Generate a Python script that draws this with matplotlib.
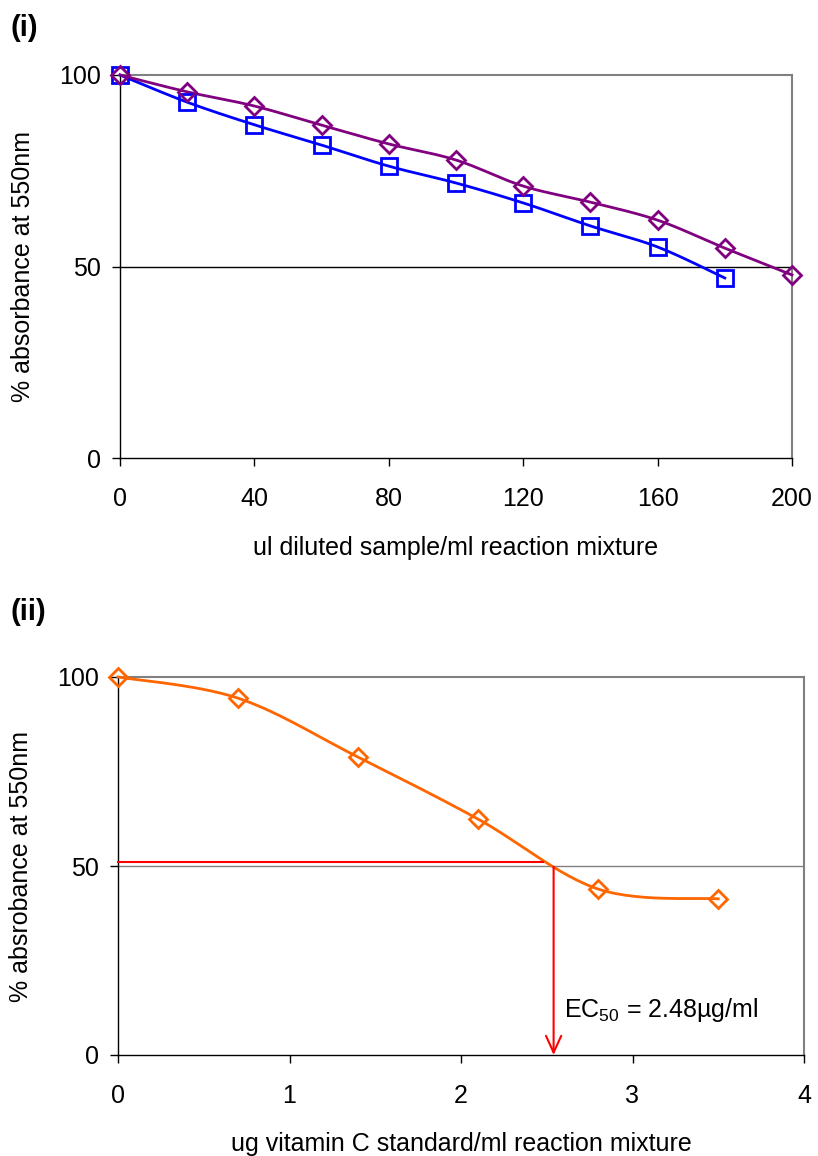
import numpy as np
import matplotlib
matplotlib.use("Agg")
import matplotlib.pyplot as plt

plt.rcParams['font.family'] = ['Liberation Sans', 'DejaVu Sans']
plt.rcParams['mathtext.fontset'] = 'custom'
plt.rcParams['mathtext.rm'] = 'Liberation Sans'
plt.rcParams['mathtext.it'] = 'Liberation Sans'
plt.rcParams['mathtext.bf'] = 'Liberation Sans:bold'

# ---- data (i)
x_top_sq = [0, 20, 40, 60, 80, 100, 120, 140, 160, 180]
y_top_sq = [100, 92.9, 87.0, 81.7, 76.2, 71.8, 66.6, 60.6, 55.1, 47.0]
x_top_di = [0, 20, 40, 60, 80, 100, 120, 140, 160, 180, 200]
y_top_di = [100, 95.6, 91.9, 86.9, 82.0, 77.8, 71.0, 66.8, 62.1, 54.8, 47.8]
top_xticks = [0, 40, 80, 120, 160, 200]
yticks = [0, 50, 100]

# ---- data (ii)
x_bot = [0, 0.70, 1.40, 2.10, 2.80, 3.50]
y_bot = [100, 94.4, 78.8, 62.4, 43.9, 41.3]
bot_xticks = [0, 1, 2, 3, 4]
ec50_h_end = 2.48
ec50_arrow_x = 2.54
ec50_level = 51
ec50_text = r'EC$_{\mathrm{50}}$ = 2.48µg/ml'


def smooth(x, y, n=30):
    """Excel-like smoothed line (Catmull-Rom style Bezier) through the points."""
    x = np.asarray(x, float); y = np.asarray(y, float)
    P = np.column_stack([x, y])
    out = [P[0]]
    for i in range(len(P) - 1):
        p0 = P[i - 1] if i > 0 else P[i]
        p1 = P[i]; p2 = P[i + 1]
        p3 = P[i + 2] if i + 2 < len(P) else P[i + 1]
        c1 = p1 + (p2 - p0) / 6.0
        c2 = p2 - (p3 - p1) / 6.0
        t = np.linspace(0, 1, n)[1:, None]
        seg = ((1 - t) ** 3) * p1 + 3 * ((1 - t) ** 2) * t * c1 + 3 * (1 - t) * t ** 2 * c2 + t ** 3 * p2
        out.extend(seg)
    out = np.array(out)
    return out[:, 0], out[:, 1]


W, H = 818, 1156
fig = plt.figure(figsize=(W / 100, H / 100), dpi=100)

FS = 18


def style_axes(ax, gridcolor):
    for s in ['top', 'right']:
        ax.spines[s].set_color('#808080')
        ax.spines[s].set_linewidth(1.5)
    for s in ['left', 'bottom']:
        ax.spines[s].set_color('black')
        ax.spines[s].set_linewidth(1.0)
    ax.tick_params(direction='out', length=6, width=1, labelsize=FS)
    ax.tick_params(axis='x', pad=15)
    ax.tick_params(axis='y', pad=8)
    ax.axhline(50, color=gridcolor, lw=1.0, zorder=1)


# ---- top panel
ax1 = fig.add_axes([120 / W, 1 - 458 / H, (792 - 120) / W, (458 - 75) / H])
xs, ys = smooth(x_top_sq, y_top_sq)
ax1.plot(xs, ys, color='#0000FF', lw=2.0, zorder=3, clip_on=False)
ax1.plot(x_top_sq, y_top_sq, ls='none', marker='s', ms=11, mfc='none', mec='#0000FF', mew=2.0, zorder=4, clip_on=False)
xs, ys = smooth(x_top_di, y_top_di)
ax1.plot(xs, ys, color='#800080', lw=2.0, zorder=3, clip_on=False)
ax1.plot(x_top_di, y_top_di, ls='none', marker='D', ms=9.5, mfc='none', mec='#800080', mew=2.0, zorder=5, clip_on=False)
ax1.set_xlim(0, 200)
ax1.set_ylim(0, 100)
ax1.set_xticks(top_xticks)
ax1.set_yticks(yticks)
style_axes(ax1, 'black')
ax1.set_xlabel('ul diluted sample/ml reaction mixture', fontsize=FS, labelpad=18)
ax1.set_ylabel('% absorbance at 550nm', fontsize=FS, labelpad=17)
fig.text(10 / W, 1 - 28 / H, '(i)', fontsize=21, fontweight='bold', va='center', ha='left')

# ---- bottom panel
ax2 = fig.add_axes([118 / W, 1 - 1055 / H, (804 - 118) / W, (1055 - 677) / H])
xs, ys = smooth(x_bot, y_bot)
ax2.plot(xs, ys, color='#FF6600', lw=2.0, zorder=3, clip_on=False)
ax2.plot(x_bot, y_bot, ls='none', marker='D', ms=9.5, mfc='none', mec='#FF6600', mew=2.0, zorder=4, clip_on=False)
ax2.set_xlim(0, 4)
ax2.set_ylim(0, 100)
ax2.set_xticks(bot_xticks)
ax2.set_yticks(yticks)
style_axes(ax2, '#808080')
ax2.plot([0, ec50_h_end], [ec50_level, ec50_level], color='#FF0000', lw=1.5, zorder=3, clip_on=False)
ax2.annotate('', xy=(ec50_arrow_x, 0), xytext=(ec50_arrow_x, 49.8),
             arrowprops=dict(arrowstyle='->,head_length=1.2,head_width=0.55', color='#FF0000', lw=1.5,
                             shrinkA=0, shrinkB=0), zorder=3)
ax2.text(2.6, 12.0, ec50_text, fontsize=FS, va='center', ha='left')
ax2.set_xlabel('ug vitamin C standard/ml reaction mixture', fontsize=FS, labelpad=17)
ax2.set_ylabel('% absrobance at 550nm', fontsize=FS, labelpad=17)
fig.text(10 / W, 1 - 612 / H, '(ii)', fontsize=21, fontweight='bold', va='center', ha='left')

fig.savefig('out.png', dpi=100)
